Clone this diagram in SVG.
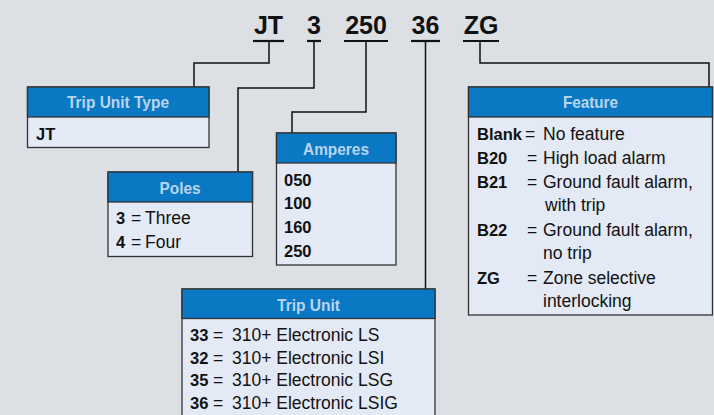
<svg xmlns="http://www.w3.org/2000/svg" width="714" height="415" viewBox="0 0 714 415">
<style>
.bg{fill:#dcdfe4}
.hdr{fill:#0a78c2;stroke:#333;stroke-width:1.3}
.body{fill:#e3e9f5;stroke:#333;stroke-width:1.3}
.ht{font-family:"Liberation Sans",Arial,sans-serif;font-weight:bold;font-size:17px;fill:#b9d5ee;text-anchor:middle}
.t{font-family:"Liberation Sans",Arial,sans-serif;font-size:17.5px;fill:#111}
.b{font-family:"Liberation Sans",Arial,sans-serif;font-weight:bold;font-size:16.5px;fill:#111}
.code{font-family:"Liberation Sans",Arial,sans-serif;font-weight:bold;font-size:25px;fill:#111;text-anchor:middle}
.ul{stroke:#111;stroke-width:2.2}
.con{fill:none;stroke:#111;stroke-width:1.5}
</style>
<rect class="bg" x="0" y="0" width="714" height="415"/>
<g id="codes">
<text class="code" x="268.5" y="34">JT</text>
<text class="code" x="314" y="34">3</text>
<text class="code" x="366" y="34">250</text>
<text class="code" x="425.5" y="34">36</text>
<text class="code" x="481" y="34">ZG</text>
<line class="ul" x1="253" y1="41" x2="284" y2="41"/>
<line class="ul" x1="307" y1="41" x2="321" y2="41"/>
<line class="ul" x1="344" y1="41" x2="388" y2="41"/>
<line class="ul" x1="411" y1="41" x2="440" y2="41"/>
<line class="ul" x1="463" y1="41" x2="499" y2="41"/>
</g>
<g id="connectors">
<path class="con" d="M269,41 V63 H194 V87"/>
<path class="con" d="M314,41 V88 H238 V172"/>
<path class="con" d="M366,41 V112 H292 V133"/>
<path class="con" d="M425.5,41 V289"/>
<path class="con" d="M480,41 V63 H709 V87"/>
</g>
<g id="trip-unit-type">
<rect class="body" x="27.5" y="87" width="181.5" height="60.5"/>
<rect class="hdr" x="27.5" y="87" width="181.5" height="30"/>
<text class="ht" x="118" y="108" textLength="102" lengthAdjust="spacingAndGlyphs">Trip Unit Type</text>
<text class="b" x="36" y="140">JT</text>
</g>
<g id="poles">
<rect class="body" x="108" y="172" width="144.5" height="84.5"/>
<rect class="hdr" x="108" y="172" width="144.5" height="30"/>
<text class="ht" x="180" y="194" textLength="41" lengthAdjust="spacingAndGlyphs">Poles</text>
<text class="b" x="116" y="224">3</text><text class="t" x="131" y="224">=</text><text class="t" x="145" y="224">Three</text>
<text class="b" x="116" y="247.5">4</text><text class="t" x="131" y="247.5">=</text><text class="t" x="145" y="247.5">Four</text>
</g>
<g id="amperes">
<rect class="body" x="276.5" y="133" width="119.5" height="132"/>
<rect class="hdr" x="276.5" y="133" width="119.5" height="30"/>
<text class="ht" x="336" y="155" textLength="66" lengthAdjust="spacingAndGlyphs">Amperes</text>
<text class="b" x="284" y="185.5">050</text>
<text class="b" x="284" y="209">100</text>
<text class="b" x="284" y="232.5">160</text>
<text class="b" x="284" y="256.5">250</text>
</g>
<g id="feature">
<rect class="body" x="468.5" y="87" width="244" height="228"/>
<rect class="hdr" x="468.5" y="87" width="244" height="30"/>
<text class="ht" x="590.5" y="108" textLength="55" lengthAdjust="spacingAndGlyphs">Feature</text>
<text class="b" x="477" y="139.5">Blank</text><text class="t" x="525" y="139.5">=</text><text class="t" x="543" y="139.5">No feature</text>
<text class="b" x="477" y="163.5">B20</text><text class="t" x="527" y="163.5">=</text><text class="t" x="543" y="163.5">High load alarm</text>
<text class="b" x="477" y="187.5">B21</text><text class="t" x="527" y="187.5">=</text><text class="t" x="543" y="187.5">Ground fault alarm,</text>
<text class="t" x="545" y="211">with trip</text>
<text class="b" x="477" y="235.5">B22</text><text class="t" x="527" y="235.5">=</text><text class="t" x="543" y="235.5">Ground fault alarm,</text>
<text class="t" x="543" y="259">no trip</text>
<text class="b" x="477" y="283.5">ZG</text><text class="t" x="527" y="283.5">=</text><text class="t" x="543" y="283.5">Zone selective</text>
<text class="t" x="543" y="307">interlocking</text>
</g>
<g id="trip-unit">
<rect class="body" x="182" y="289" width="253" height="135"/>
<rect class="hdr" x="182" y="289" width="253" height="29.5"/>
<text class="ht" x="308.5" y="311" textLength="63" lengthAdjust="spacingAndGlyphs">Trip Unit</text>
<text class="b" x="190" y="341">33</text><text class="t" x="213" y="341">=</text><text class="t" x="232" y="341">310+ Electronic LS</text>
<text class="b" x="190" y="363.5">32</text><text class="t" x="213" y="363.5">=</text><text class="t" x="232" y="363.5">310+ Electronic LSI</text>
<text class="b" x="190" y="386">35</text><text class="t" x="213" y="386">=</text><text class="t" x="232" y="386">310+ Electronic LSG</text>
<text class="b" x="190" y="409">36</text><text class="t" x="213" y="409">=</text><text class="t" x="232" y="409">310+ Electronic LSIG</text>
</g>
</svg>
